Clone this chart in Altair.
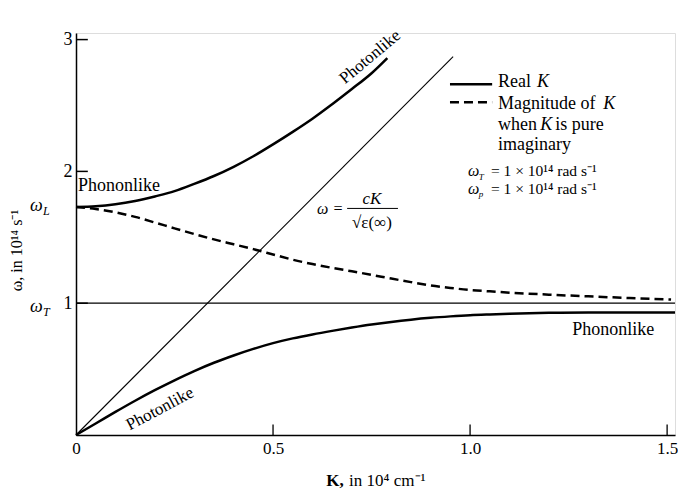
import altair as alt
import pandas as pd

# ---- data (K in 1e4 cm^-1, omega in 1e14 s^-1) ----
K_upper = [0, 0.05, 0.1, 0.15, 0.2, 0.25, 0.3, 0.35, 0.4, 0.45, 0.5, 0.55, 0.6, 0.65, 0.7, 0.75, 0.79]
w_upper = [1.73, 1.735, 1.75, 1.775, 1.81, 1.85, 1.905, 1.965, 2.035, 2.115, 2.205, 2.30, 2.40, 2.51, 2.625, 2.745, 2.86]

K_lower = [0, 0.05, 0.1, 0.15, 0.2, 0.25, 0.3, 0.35, 0.4, 0.45, 0.5, 0.55, 0.6, 0.65, 0.7, 0.75,
           0.8, 0.85, 0.9, 0.95, 1.0, 1.05, 1.1, 1.15, 1.2, 1.3, 1.4, 1.52]
w_lower = [0, 0.087, 0.175, 0.26, 0.34, 0.415, 0.485, 0.548, 0.603, 0.653, 0.697, 0.733, 0.763, 0.79, 0.815, 0.838,
           0.858, 0.875, 0.889, 0.9, 0.909, 0.915, 0.92, 0.924, 0.927, 0.93, 0.93, 0.93]

K_imag = [0, 0.05, 0.1, 0.15, 0.2, 0.25, 0.3, 0.35, 0.4, 0.45, 0.5, 0.55, 0.6, 0.65, 0.7, 0.75, 0.8,
          0.85, 0.9, 0.95, 1.0, 1.05, 1.1, 1.2, 1.3, 1.4, 1.51]
w_imag = [1.73, 1.715, 1.69, 1.655, 1.612, 1.568, 1.525, 1.484, 1.447, 1.41, 1.37, 1.33, 1.297, 1.268, 1.242,
          1.215, 1.187, 1.16, 1.135, 1.116, 1.10, 1.09, 1.08, 1.065, 1.052, 1.04, 1.028]

K_light = [0, 0.957]
w_light = [0, 2.87]

K_wT = [0, 1.52]
w_wT = [1, 1]

x_ticks = [0.5, 1.0, 1.5]
y_ticks = [1, 2, 3]

SERIF = "Liberation Serif"

X = alt.X("K:Q", scale=alt.Scale(domain=[0, 1.52], nice=False, zero=False),
          axis=alt.Axis(values=[0, 0.5, 1.0, 1.5], format=".1f",
                        labelExpr="datum.value == 0 ? '0' : datum.label",
                        tickSize=0, labelPadding=5, labelFont=SERIF, labelFontSize=17,
                        labelColor="black", domainColor="black", domainWidth=1.5,
                        grid=False, title=None, labelFlush=False))
Y = alt.Y("w:Q", scale=alt.Scale(domain=[0, 3.05], nice=False, zero=False),
          axis=alt.Axis(values=y_ticks, format="d", tickSize=0, labelPadding=4,
                        labelFont=SERIF, labelFontSize=18, labelColor="black",
                        domainColor="black", domainWidth=1.5, grid=False, title=None))


def curve(K, w):
    return pd.DataFrame({"K": K, "w": w})


base_upper = alt.Chart(curve(K_upper, w_upper)).mark_line(
    color="black", strokeWidth=2.5, interpolate="monotone").encode(x=X, y=Y)
base_lower = alt.Chart(curve(K_lower, w_lower)).mark_line(
    color="black", strokeWidth=2.5, interpolate="monotone").encode(x="K:Q", y="w:Q")
base_imag = alt.Chart(curve(K_imag, w_imag)).mark_line(
    color="black", strokeWidth=2.5, strokeDash=[9, 5], interpolate="monotone").encode(x="K:Q", y="w:Q")
base_light = alt.Chart(curve(K_light, w_light)).mark_line(
    color="black", strokeWidth=1.1).encode(x="K:Q", y="w:Q")
base_wT = alt.Chart(curve(K_wT, w_wT)).mark_line(
    color="black", strokeWidth=1.3).encode(x="K:Q", y="w:Q")

# inner ticks
xt = alt.Chart(pd.DataFrame({"K": x_ticks, "w0": [0] * 3, "w1": [0.08] * 3})).mark_rule(
    color="black", strokeWidth=1.3).encode(x="K:Q", y="w0:Q", y2="w1:Q")
yt = alt.Chart(pd.DataFrame({"w": y_ticks, "k0": [0] * 3, "k1": [0.03] * 3})).mark_rule(
    color="black", strokeWidth=1.5).encode(y="w:Q", x="k0:Q", x2="k1:Q")

# legend samples
leg_solid = alt.Chart(pd.DataFrame({"k0": [0.949], "k1": [1.056], "w": [2.662]})).mark_rule(
    color="black", strokeWidth=2.5).encode(x="k0:Q", x2="k1:Q", y="w:Q")
leg_dash = alt.Chart(pd.DataFrame({"k0": [0.949], "k1": [1.056], "w": [2.525]})).mark_rule(
    color="black", strokeWidth=2.5, strokeDash=[9, 5]).encode(x="k0:Q", x2="k1:Q", y="w:Q")

# fraction bar in formula
frac = alt.Chart(pd.DataFrame({"k0": [0.688], "k1": [0.817], "w": [1.719]})).mark_rule(
    color="black", strokeWidth=1).encode(x="k0:Q", x2="k1:Q", y="w:Q")

# --- text annotations ---
normal_text = ["Phononlike", "Phononlike", "Real", "Magnitude of", "when", "is pure", "imaginary"]
normal_K = [0.005, 1.259, 1.071, 1.071, 1.071, 1.216, 1.071]
normal_w = [1.848, 0.760, 2.639, 2.471, 2.312, 2.312, 2.160]

small_text = ["= 1 × 10¹⁴ rad s⁻¹", "= 1 × 10¹⁴ rad s⁻¹"]
small_K = [1.053, 1.053]
small_w = [1.962, 1.830]

ital_text = ["K", "K", "K", "ω", "ω", "ω", "ω"]
ital_K = [1.170, 1.338, 1.178, 0.995, 0.995, -0.117, -0.117]
ital_w = [2.639, 2.471, 2.312, 1.962, 1.830, 1.696, 0.935]
ital_size = [18, 18, 18, 16, 16, 18, 18]

sub_text = ["T", "p", "L", "T"]
sub_K = [1.022, 1.022, -0.084, -0.084]
sub_w = [1.937, 1.807, 1.670, 0.905]
sub_size = [9, 9, 12, 12]

t_normal = alt.Chart(pd.DataFrame({"t": normal_text, "K": normal_K, "w": normal_w})).mark_text(
    font=SERIF, fontSize=18, align="left", baseline="alphabetic", color="black").encode(
    x="K:Q", y="w:Q", text="t:N")
t_small = alt.Chart(pd.DataFrame({"t": small_text, "K": small_K, "w": small_w})).mark_text(
    font=SERIF, fontSize=15.5, align="left", baseline="alphabetic", color="black").encode(
    x="K:Q", y="w:Q", text="t:N")
t_ital = alt.Chart(pd.DataFrame({"t": ital_text, "K": ital_K, "w": ital_w, "s": ital_size})).mark_text(
    font=SERIF, fontStyle="italic", align="left", baseline="alphabetic", color="black").encode(
    x="K:Q", y="w:Q", text="t:N", size=alt.Size("s:Q", scale=None, legend=None))
t_sub = alt.Chart(pd.DataFrame({"t": sub_text, "K": sub_K, "w": sub_w, "s": sub_size})).mark_text(
    font=SERIF, fontStyle="italic", align="left", baseline="alphabetic", color="black").encode(
    x="K:Q", y="w:Q", text="t:N", size=alt.Size("s:Q", scale=None, legend=None))

# rotated "Photonlike" labels
rot_text = ["Photonlike", "Photonlike"]
rot_K = [0.746, 0.213]
rot_w = [2.867, 0.198]
rot_angle = [320, 332]
t_rot = alt.Chart(pd.DataFrame({"t": rot_text, "K": rot_K, "w": rot_w, "a": rot_angle})).mark_text(
    font=SERIF, fontSize=17, align="center", baseline="middle", color="black").encode(
    x="K:Q", y="w:Q", text="t:N", angle=alt.Angle("a:Q", scale=None))

# formula omega = cK / sqrt(eps(inf))
f_eq = alt.Chart(pd.DataFrame({"t": ["ω ="], "K": [0.678], "w": [1.673]})).mark_text(
    font=SERIF, fontSize=16, fontStyle="italic", align="right", baseline="alphabetic", color="black").encode(
    x="K:Q", y="w:Q", text="t:N")
f_num = alt.Chart(pd.DataFrame({"t": ["cK"], "K": [0.751], "w": [1.749]})).mark_text(
    font=SERIF, fontSize=17, fontStyle="italic", align="center", baseline="alphabetic", color="black").encode(
    x="K:Q", y="w:Q", text="t:N")
f_den = alt.Chart(pd.DataFrame({"t": ["√ε(∞)"], "K": [0.751], "w": [1.567]})).mark_text(
    font=SERIF, fontSize=17, align="center", baseline="alphabetic", color="black").encode(
    x="K:Q", y="w:Q", text="t:N")

# axis titles
x_title_b = alt.Chart(pd.DataFrame({"t": ["K,"], "K": [0.635], "w": [-0.388]})).mark_text(
    font=SERIF, fontSize=17, fontWeight="bold", align="left", baseline="alphabetic", color="black").encode(
    x="K:Q", y="w:Q", text="t:N")
x_title = alt.Chart(pd.DataFrame({"t": ["in 10⁴ cm⁻¹"], "K": [0.693], "w": [-0.388]})).mark_text(
    font=SERIF, fontSize=17, align="left", baseline="alphabetic", color="black").encode(
    x="K:Q", y="w:Q", text="t:N")
y_title = alt.Chart(pd.DataFrame({"t": ["ω, in 10¹⁴ s⁻¹"], "K": [-0.150], "w": [1.40]})).mark_text(
    font=SERIF, fontSize=16, align="center", baseline="middle", angle=270, color="black").encode(
    x="K:Q", y="w:Q", text="t:N")

chart = alt.layer(
    base_upper, base_lower, base_imag, base_light, base_wT, xt, yt,
    leg_solid, leg_dash, frac,
    t_normal, t_small, t_ital, t_sub, t_rot, f_eq, f_num, f_den,
    x_title_b, x_title, y_title,
).properties(
    width=599, height=402,
    padding={"left": 68, "top": 25, "right": 3, "bottom": 57},
    autosize=alt.AutoSizeParams(type="none"),
).configure_view(stroke=None).configure(background="white")

chart.save("out.html", embed_options={"renderer": "svg", "actions": False})
